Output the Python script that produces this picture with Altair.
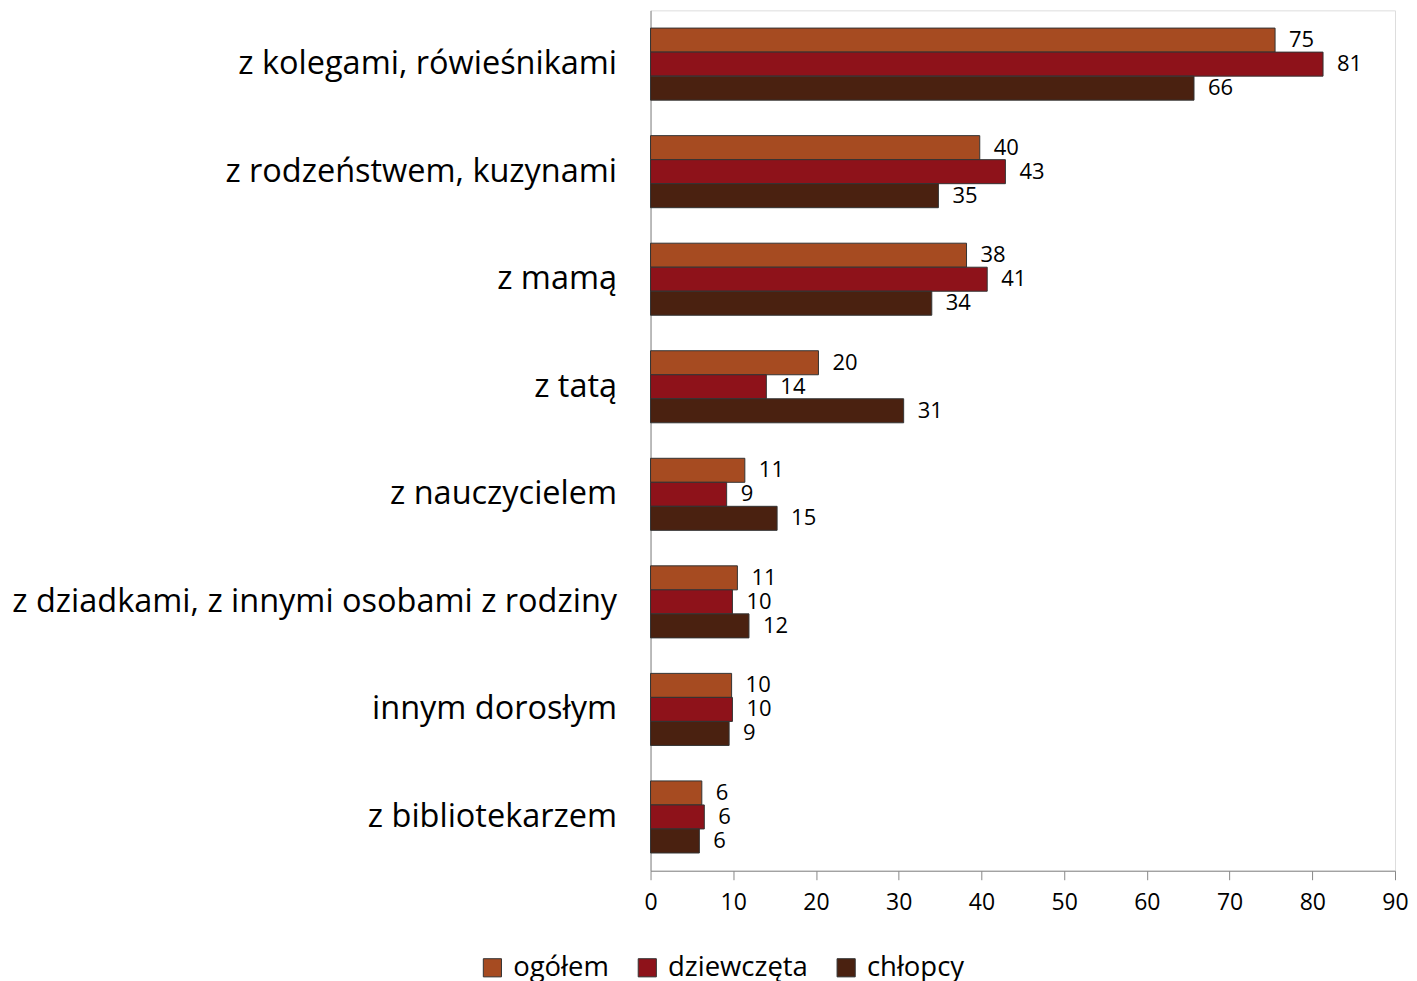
import altair as alt
import pandas as pd

categories = [
    "z kolegami, rówieśnikami",
    "z rodzeństwem, kuzynami",
    "z mamą",
    "z tatą",
    "z nauczycielem",
    "z dziadkami, z innymi osobami z rodziny",
    "innym dorosłym",
    "z bibliotekarzem",
]
series = ["ogółem", "dziewczęta", "chłopcy"]
colors = ["#A64B21", "#8E121A", "#4A2110"]

ogolem = [75.5, 39.8, 38.2, 20.3, 11.4, 10.5, 9.8, 6.2]
dziewczeta = [81.3, 42.9, 40.7, 14.0, 9.2, 9.9, 9.9, 6.5]
chlopcy = [65.7, 34.8, 34.0, 30.6, 15.3, 11.9, 9.5, 5.9]

lab_ogolem = [75, 40, 38, 20, 11, 11, 10, 6]
lab_dziewczeta = [81, 43, 41, 14, 9, 10, 10, 6]
lab_chlopcy = [66, 35, 34, 31, 15, 12, 9, 6]

rows = []
for s, vals, labs in [
    ("ogółem", ogolem, lab_ogolem),
    ("dziewczęta", dziewczeta, lab_dziewczeta),
    ("chłopcy", chlopcy, lab_chlopcy),
]:
    for c, v, l in zip(categories, vals, labs):
        rows.append({"kategoria": c, "grupa": s, "wartosc": v, "etykieta": str(l)})
df = pd.DataFrame(rows)

FONT = "Open Sans"

y_enc = alt.Y(
    "kategoria:N",
    sort=categories,
    scale=alt.Scale(paddingInner=0.33, paddingOuter=0.165),
    axis=alt.Axis(
        title=None,
        ticks=False,
        labelFontSize=32.5,
        labelFont=FONT,
        labelColor="#000000",
        labelPadding=34,
        labelLimit=800,
        domainColor="#888888",
        domainWidth=1,
    ),
)
x_enc = alt.X(
    "wartosc:Q",
    scale=alt.Scale(domain=[0, 90], nice=False),
    axis=alt.Axis(
        title=None,
        values=list(range(0, 91, 10)),
        grid=False,
        tickSize=9,
        tickColor="#888888",
        domainColor="#888888",
        labelFontSize=23,
        labelFont=FONT,
        labelColor="#000000",
        labelPadding=12,
        labelFlush=False,
    ),
)
yoff = alt.YOffset("grupa:N", sort=series, scale=alt.Scale(paddingInner=0, paddingOuter=0))

bars = alt.Chart(df).mark_bar(stroke="#333333", strokeWidth=1).encode(
    y=y_enc,
    x=x_enc,
    yOffset=yoff,
    color=alt.Color(
        "grupa:N",
        sort=series,
        scale=alt.Scale(domain=series, range=colors),
        legend=alt.Legend(
            title=None,
            orient="none",
            direction="horizontal",
            legendX=-172,
            legendY=944,
            symbolType="square",
            symbolSize=330,
            symbolStrokeColor="#333333",
            symbolStrokeWidth=1,
            labelFontSize=27.5,
            labelFont=FONT,
            labelColor="#000000",
            columnPadding=24,
            labelOffset=7,
        ),
    ),
)

text = alt.Chart(df).mark_text(
    align="left", baseline="middle", dx=14, fontSize=22, font=FONT, color="#000000"
).encode(
    y=alt.Y("kategoria:N", sort=categories),
    x=alt.X("wartosc:Q"),
    yOffset=alt.YOffset("grupa:N", sort=series),
    text="etykieta:N",
)

chart = (
    alt.layer(bars, text)
    .properties(
        width=745,
        height=861,
        padding={"top": 2, "left": 3, "right": 0, "bottom": 0},
    )
    .configure_view(fill="#F2F2F2", stroke=None)
    .configure(background="#FFFFFF")
)

chart.save("out.html", embed_options={"renderer": "svg", "actions": False})
